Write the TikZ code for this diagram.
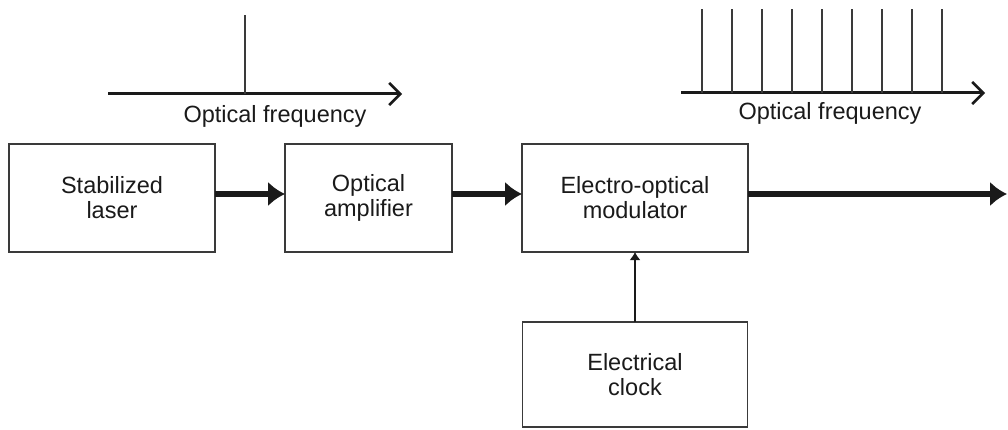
\documentclass[tikz,border=0pt]{standalone}
\usepackage{fontspec}
\setmainfont{Liberation Sans}
\usetikzlibrary{arrows.meta,positioning}
\definecolor{Ink}{HTML}{1A1A1A}
\definecolor{Edge}{HTML}{3A3A3A}
\tikzset{
  block/.style={draw=Edge,line width=1.6pt,minimum height=108pt,align=center,inner sep=0pt,outer sep=0pt,text=Ink,font=\fontsize{23.5}{25}\selectfont},
  bigArrow/.style={-{Latex[length=17pt,width=25pt]},line width=6pt,draw=Ink},
  clockArrow/.style={-{Latex[length=8pt,width=11pt]},line width=2.6pt,draw=Ink},
  axisArrow/.style={-{Straight Barb[length=11pt,width=22pt,line width=2.6pt]},line width=3pt,draw=Ink},
  comb/.style={line width=1.8pt,draw=Edge},
  axisLabel/.style={text=Ink,font=\fontsize{23.5}{25}\selectfont}
}
\begin{document}
\begin{tikzpicture}[x=1pt,y=-1pt,node distance=70pt]
\useasboundingbox (0,0) rectangle (1008,430);
\node[block,minimum width=206pt,anchor=north west] (laser) at (9,144) {Stabilized\\laser};
\node[block,minimum width=167pt,right=of laser] (amp) {Optical\\amplifier};
\node[block,minimum width=226pt,right=of amp] (mod) {Electro-optical\\modulator};
\node[block,minimum width=225pt,minimum height=105pt,below=of mod] (clock) {Electrical\\clock};
\coordinate (out) at (1007,194);
\draw[bigArrow] ([yshift=4pt]laser.east)--([yshift=4pt]amp.west);\draw[bigArrow] ([yshift=4pt]amp.east)--([yshift=4pt]mod.west);\draw[bigArrow] ([yshift=4pt]mod.east)--(out);
\draw[clockArrow] (clock.north)--(mod.south);
\coordinate (s1) at (108,94);\coordinate (e1) at (402,94);\coordinate (peak) at (245,94);
\draw[axisArrow] (s1)--(e1);
\draw[comb] (peak)--++(0,-79);
\node[axisLabel] (f1) at (275,116) {Optical frequency};
\coordinate (s2) at (681,93);\coordinate (e2) at (985,93);
\draw[axisArrow] (s2)--(e2);
\foreach \i in {0,...,8} \draw[comb] (702+30*\i,93)--(702+30*\i,9);
\node[axisLabel] (f2) at (830,113) {Optical frequency};
\end{tikzpicture}
\end{document}
